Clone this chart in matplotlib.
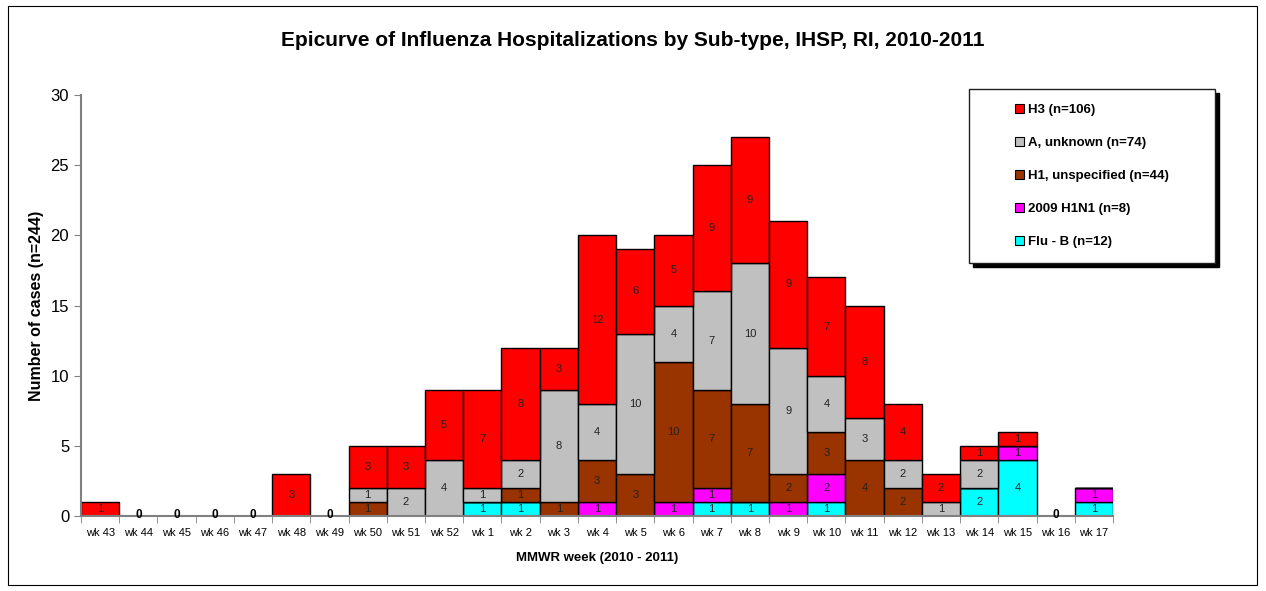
import matplotlib
matplotlib.use("Agg")
import matplotlib.pyplot as plt
import numpy as np
from matplotlib.patches import Patch, Rectangle

plt.rcParams['font.family'] = ['Liberation Sans', 'DejaVu Sans']

weeks = ["wk 43", "wk 44", "wk 45", "wk 46", "wk 47", "wk 48", "wk 49", "wk 50", "wk 51", "wk 52",
         "wk 1", "wk 2", "wk 3", "wk 4", "wk 5", "wk 6", "wk 7", "wk 8", "wk 9", "wk 10",
         "wk 11", "wk 12", "wk 13", "wk 14", "wk 15", "wk 16", "wk 17"]

flu_b    = [0, 0, 0, 0, 0, 0, 0, 0, 0, 0, 1, 1, 0, 0, 0, 0, 1, 1, 0, 1, 0, 0, 0, 2, 4, 0, 1]
h1n1     = [0, 0, 0, 0, 0, 0, 0, 0, 0, 0, 0, 0, 0, 1, 0, 1, 1, 0, 1, 2, 0, 0, 0, 0, 1, 0, 1]
h1_unsp  = [0, 0, 0, 0, 0, 0, 0, 1, 0, 0, 0, 1, 1, 3, 3, 10, 7, 7, 2, 3, 4, 2, 0, 0, 0, 0, 0]
a_unk    = [0, 0, 0, 0, 0, 0, 0, 1, 2, 4, 1, 2, 8, 4, 10, 4, 7, 10, 9, 4, 3, 2, 1, 2, 0, 0, 0]
h3       = [1, 0, 0, 0, 0, 3, 0, 3, 3, 5, 7, 8, 3, 12, 6, 5, 9, 9, 9, 7, 8, 4, 2, 1, 1, 0, 0]

series = [
    ("Flu - B (n=12)", flu_b, "#00FFFF"),
    ("2009 H1N1 (n=8)", h1n1, "#FF00FF"),
    ("H1, unspecified (n=44)", h1_unsp, "#993300"),
    ("A, unknown (n=74)", a_unk, "#C0C0C0"),
    ("H3 (n=106)", h3, "#FF0000"),
]

W, H = 1266, 591
fig = plt.figure(figsize=(W/100, H/100), dpi=100)
ax = fig.add_axes([81/W, 1-516/H, 1032/W, (516-95)/H])

x = np.arange(len(weeks))
bottom = np.zeros(len(weeks))
for name, vals, col in series:
    v = np.array(vals, dtype=float)
    ax.bar(x, v, bottom=bottom, width=1.0, color=col, edgecolor="black", linewidth=1.0,
           label=name, zorder=2)
    for i, val in enumerate(v):
        if val > 0:
            ax.text(x[i], bottom[i] + val/2, f"{int(val)}", ha="center", va="center",
                    fontsize=8, color="#222222", zorder=3)
    bottom += v

for i, tot in enumerate(bottom):
    if tot == 0:
        ax.text(x[i], 0.05, "0", ha="center", va="center", fontsize=8.5, fontweight="bold")

ax.set_xlim(-0.5, len(weeks) - 0.5)
ax.set_ylim(0, 30)
ax.set_yticks([0, 5, 10, 15, 20, 25, 30])
ax.tick_params(axis="y", labelsize=12, length=5, color="#808080")
ax.set_xticks(x)
ax.set_xticklabels(weeks, fontsize=8)
ax.tick_params(axis="x", length=0, pad=9)
ax.set_xticks(np.arange(-0.5, len(weeks), 1.0), minor=True)
ax.tick_params(axis="x", which="minor", length=5, color="#808080")
for s in ["top", "right"]:
    ax.spines[s].set_visible(False)
for s in ["left", "bottom"]:
    ax.spines[s].set_color("#808080")
    ax.spines[s].set_linewidth(1.5)

ax.set_ylabel("Number of cases (n=244)", fontsize=11.5, fontweight="bold")
ax.yaxis.label.set_va("center")
ax.yaxis.set_label_coords((37 - 81) / 1032, 0.5)
ax.set_xlabel("MMWR week (2010 - 2011)", fontsize=9.5, fontweight="bold", labelpad=10)
fig.text(0.5, 1-40/H, "Epicurve of Influenza Hospitalizations by Sub-type, IHSP, RI, 2010-2011",
         ha="center", va="center", fontsize=15, fontweight="bold")

# legend box with black shadow
lx0, lx1, ly0, ly1 = 969, 1215, 89, 263
fig.patches.append(Rectangle(((lx0+4)/W, 1-(ly1+4)/H), (lx1-lx0)/W, (ly1-ly0)/H,
                             transform=fig.transFigure, facecolor="black", edgecolor="black", zorder=4))
fig.patches.append(Rectangle((lx0/W, 1-ly1/H), (lx1-lx0)/W, (ly1-ly0)/H,
                             transform=fig.transFigure, facecolor="white", edgecolor="#202020",
                             linewidth=1.0, zorder=5))
handles = [Patch(facecolor=c, edgecolor="black", linewidth=0.8) for _, _, c in series][::-1]
labels = [n for n, _, _ in series][::-1]
leg = fig.legend(handles, labels, loc="center",
                 bbox_to_anchor=((lx0+lx1)/2/W, 1-(ly0+ly1)/2/H),
                 frameon=False, prop={"size": 9.5, "weight": "bold"},
                 handlelength=0.65, handleheight=0.65, handletextpad=0.3,
                 labelspacing=1.58, borderpad=0, borderaxespad=0)
leg.set_zorder(6)

fig.patches.append(Rectangle((8/W, 1-585/H), 1249/W, 579/H, transform=fig.transFigure,
                             fill=False, edgecolor="black", linewidth=0.8))

fig.savefig("out.png", dpi=100)
